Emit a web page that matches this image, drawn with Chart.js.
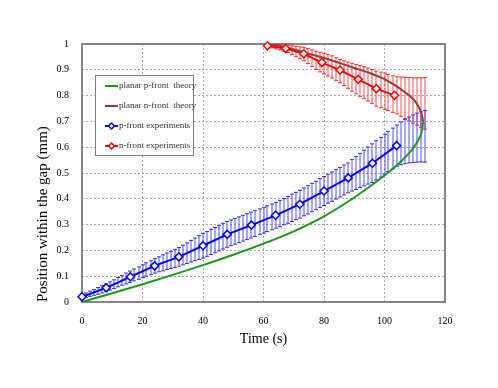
<!DOCTYPE html>
<html>
<head>
<meta charset="utf-8">
<script src="https://cdn.jsdelivr.net/npm/chart.js@4.4.0/dist/chart.umd.min.js"></script>
<style>
html, body { margin: 0; padding: 0; background: #fff; }
</style>
</head>
<body>
<canvas id="chart" width="498" height="388"></canvas>
<script>
// p-front experiments (markers)
var pTime = [0, 8, 16, 24, 32, 40, 48, 56, 64, 72, 80, 88, 96, 104];
var pPos = [0.02, 0.055, 0.098, 0.14, 0.175, 0.218, 0.262, 0.298, 0.336, 0.379, 0.43, 0.481, 0.538, 0.606];

// n-front experiments (markers)
var nTime = [61.3, 67.3, 73.3, 79.3, 85.3, 91.3, 97.3, 103.3];
var nPos = [0.993, 0.983, 0.962, 0.928, 0.899, 0.863, 0.827, 0.801];

// planar p-front theory
var pTheoryTime = [0, 10, 20, 30, 40, 50, 60, 70, 80, 90, 100, 105, 108, 110, 111.5, 112.4, 112.8];
var pTheoryPos = [0, 0.034, 0.069, 0.105, 0.143, 0.183, 0.226, 0.274, 0.332, 0.405, 0.49, 0.54, 0.575, 0.605, 0.635, 0.665, 0.70];

// planar n-front theory
var nTheoryTime = [61.3, 65, 68, 74, 80, 85, 90, 95, 100, 104, 106, 108, 110, 111.5, 112.3, 112.8];
var nTheoryPos = [1.0, 0.993, 0.986, 0.965, 0.946, 0.927, 0.907, 0.888, 0.864, 0.836, 0.82, 0.802, 0.78, 0.752, 0.728, 0.70];

// p-front error bars (time, centre, half width)
var pErrTime = [0, 1.3, 2.7, 4, 5.3, 6.7, 8, 9.3, 10.7, 12, 13.3, 14.7, 16, 17.3, 18.7, 20, 21.3, 22.7, 24,
  25.3, 26.7, 28, 29.3, 30.7, 32, 33.3, 34.7, 36, 37.3, 38.7, 40, 41.3, 42.7, 44, 45.3, 46.7, 48,
  49.3, 50.7, 52, 53.3, 54.7, 56, 57.3, 58.7, 60, 61.3, 62.7, 64, 65.3, 66.7, 68, 69.3, 70.7, 72,
  73.3, 74.7, 76, 77.3, 78.7, 80, 81.3, 82.7, 84, 85.3, 86.7, 88, 89.3, 90.7, 92, 93.3, 94.7, 96,
  97.3, 98.7, 100, 101.3, 102.7, 104, 105.3, 106.7, 108, 109.3, 110.7, 112, 113.3];
var pErrMid = [0.020, 0.026, 0.032, 0.037, 0.043, 0.049, 0.055, 0.062, 0.069, 0.077, 0.084, 0.091, 0.098,
  0.105, 0.112, 0.119, 0.126, 0.133, 0.140, 0.146, 0.152, 0.158, 0.163, 0.169, 0.175,
  0.182, 0.189, 0.197, 0.204, 0.211, 0.218, 0.225, 0.233, 0.240, 0.247, 0.255, 0.262,
  0.268, 0.274, 0.280, 0.286, 0.292, 0.298, 0.304, 0.311, 0.317, 0.323, 0.330, 0.336,
  0.343, 0.350, 0.357, 0.365, 0.372, 0.379, 0.388, 0.396, 0.405, 0.413, 0.422, 0.430,
  0.439, 0.447, 0.456, 0.464, 0.473, 0.481, 0.491, 0.500, 0.510, 0.519, 0.529, 0.538,
  0.549, 0.561, 0.572, 0.583, 0.595, 0.606, 0.615, 0.622, 0.628, 0.633, 0.637, 0.640, 0.642];
var pErrHalf = [0.008, 0.009, 0.010, 0.011, 0.013, 0.014, 0.015, 0.016, 0.017, 0.018, 0.019, 0.021, 0.022,
  0.023, 0.024, 0.025, 0.026, 0.027, 0.028, 0.029, 0.031, 0.032, 0.033, 0.035, 0.036,
  0.038, 0.040, 0.042, 0.044, 0.046, 0.048, 0.048, 0.049, 0.049, 0.049, 0.050, 0.050,
  0.050, 0.050, 0.050, 0.050, 0.050, 0.050, 0.050, 0.050, 0.050, 0.050, 0.050, 0.050,
  0.051, 0.051, 0.052, 0.053, 0.053, 0.054, 0.054, 0.055, 0.055, 0.055, 0.056, 0.056,
  0.056, 0.057, 0.057, 0.057, 0.058, 0.058, 0.061, 0.064, 0.066, 0.069, 0.072, 0.075,
  0.076, 0.077, 0.078, 0.078, 0.079, 0.080, 0.083, 0.086, 0.089, 0.092, 0.095, 0.097, 0.100];

// n-front error bars (time, centre, half width)
var nErrTime = [61.3, 62.7, 64, 65.3, 66.7, 68, 69.3, 70.7, 72, 73.3, 74.7, 76, 77.3, 78.7, 80,
  81.3, 82.7, 84, 85.3, 86.7, 88, 89.3, 90.7, 92, 93.3, 94.7, 96, 97.3, 98.7, 100,
  101.3, 102.7, 104, 105.3, 106.7, 108, 109.3, 110.7, 112, 113.3];
var nErrMid = [0.993, 0.991, 0.989, 0.987, 0.984, 0.981, 0.976, 0.971, 0.966, 0.961, 0.953, 0.945, 0.937, 0.930, 0.924,
  0.918, 0.911, 0.903, 0.895, 0.887, 0.879, 0.871, 0.864, 0.857, 0.850, 0.843, 0.835, 0.827, 0.822, 0.817,
  0.812, 0.806, 0.801, 0.796, 0.791, 0.786, 0.781, 0.777, 0.773, 0.770];
var nErrHalf = [0.004, 0.006, 0.008, 0.010, 0.012, 0.014, 0.017, 0.020, 0.023, 0.026, 0.029, 0.032, 0.035, 0.038, 0.040,
  0.042, 0.043, 0.044, 0.045, 0.048, 0.051, 0.054, 0.057, 0.060, 0.062, 0.064, 0.066, 0.068, 0.069, 0.070,
  0.070, 0.071, 0.072, 0.076, 0.080, 0.084, 0.088, 0.092, 0.096, 0.100];

var seriesNames = ['p-front experiments', 'n-front experiments', 'planar p-front  theory', 'planar n-front  theory'];

function toPoints(xs, ys) {
  var out = [];
  for (var i = 0; i < xs.length; i++) out.push({x: xs[i], y: ys[i]});
  return out;
}

// frame + error bars, under the lines
var errorBars = {
  id: 'errorBars',
  beforeDatasetsDraw: function(chart) {
    var ctx = chart.ctx, xs = chart.scales.x, ys = chart.scales.y, a = chart.chartArea;
    ctx.save();
    ctx.strokeStyle = '#858585';
    ctx.lineWidth = 2;
    ctx.strokeRect(a.left, a.top, a.right - a.left, a.bottom - a.top);

    function bars(t, mid, half, lineCol, capCol) {
      for (var i = 0; i < t.length; i++) {
        var x = Math.round(xs.getPixelForValue(t[i]));
        var y1 = ys.getPixelForValue(mid[i] + half[i]);
        var y2 = ys.getPixelForValue(mid[i] - half[i]);
        ctx.strokeStyle = lineCol;
        ctx.lineWidth = 2;
        ctx.beginPath();
        ctx.moveTo(x, y1); ctx.lineTo(x, y2);
        ctx.stroke();
        ctx.strokeStyle = capCol;
        ctx.lineWidth = 1;
        ctx.beginPath();
        ctx.moveTo(x - 2, y1); ctx.lineTo(x + 2, y1);
        ctx.moveTo(x - 2, y2); ctx.lineTo(x + 2, y2);
        ctx.stroke();
      }
    }
    bars(nErrTime, nErrMid, nErrHalf, 'rgba(255,60,60,0.45)', 'rgba(255,0,0,0.8)');
    bars(pErrTime, pErrMid, pErrHalf, 'rgba(60,60,255,0.45)', 'rgba(0,0,255,0.8)');
    ctx.restore();
  }
};

// legend box inside the plot
var boxLegend = {
  id: 'boxLegend',
  afterDraw: function(chart) {
    var ctx = chart.ctx;
    var x0 = 95.5, y0 = 75.5, w = 98, h = 80;
    ctx.save();
    ctx.fillStyle = '#fff';
    ctx.fillRect(x0, y0, w, h);
    ctx.strokeStyle = '#808080';
    ctx.lineWidth = 1;
    ctx.strokeRect(x0, y0, w, h);
    var rows = [2, 3, 0, 1];
    ctx.font = '9px "Liberation Serif", "Times New Roman", serif';
    ctx.textBaseline = 'middle';
    ctx.textAlign = 'left';
    for (var r = 0; r < rows.length; r++) {
      var ds = chart.data.datasets[rows[r]];
      var y = 86 + r * 20;
      ctx.strokeStyle = ds.borderColor;
      ctx.lineWidth = 2;
      ctx.beginPath();
      ctx.moveTo(105, y); ctx.lineTo(118, y);
      ctx.stroke();
      if (ds.pointRadius > 0) {
        ctx.lineWidth = 1.5;
        ctx.fillStyle = '#fff';
        ctx.beginPath();
        ctx.moveTo(111.5, y - 3); ctx.lineTo(114.5, y); ctx.lineTo(111.5, y + 3); ctx.lineTo(108.5, y);
        ctx.closePath();
        ctx.fill(); ctx.stroke();
      }
      ctx.fillStyle = '#333';
      ctx.fillText(ds.label, 119, y);
    }
    ctx.restore();
  }
};

var serif = '"Liberation Serif", "Times New Roman", serif';

new Chart(document.getElementById('chart'), {
  type: 'scatter',
  data: {
    datasets: [{
      label: seriesNames[0],
      data: toPoints(pTime, pPos),
      showLine: true,
      borderColor: '#0000ff',
      borderWidth: 2,
      pointStyle: 'rectRot',
      pointRadius: 4,
      pointBorderWidth: 1.5,
      pointBackgroundColor: '#fff',
      pointBorderColor: '#0000ff',
      clip: false
    }, {
      label: seriesNames[1],
      data: toPoints(nTime, nPos),
      showLine: true,
      borderColor: '#ff0000',
      borderWidth: 2,
      pointStyle: 'rectRot',
      pointRadius: 4,
      pointBorderWidth: 1.5,
      pointBackgroundColor: '#fff',
      pointBorderColor: '#ff0000',
      clip: false
    }, {
      label: seriesNames[2],
      data: toPoints(pTheoryTime, pTheoryPos),
      showLine: true,
      borderColor: '#1a9a1a',
      borderWidth: 2,
      pointRadius: 0,
      cubicInterpolationMode: 'monotone'
    }, {
      label: seriesNames[3],
      data: toPoints(nTheoryTime, nTheoryPos),
      showLine: true,
      borderColor: '#993838',
      borderWidth: 2,
      pointRadius: 0,
      cubicInterpolationMode: 'monotone'
    }]
  },
  options: {
    responsive: false,
    animation: false,
    events: [],
    layout: { padding: { top: 44, right: 53, bottom: 0, left: 0 } },
    plugins: { legend: { display: false }, tooltip: { enabled: false } },
    scales: {
      x: {
        type: 'linear',
        min: 0, max: 120,
        afterFit: function(s) { s.height = 86; },
        ticks: {
          stepSize: 20,
          padding: 13,
          color: '#000',
          font: { family: serif, size: 10 }
        },
        grid: { color: '#a8a8a8', lineWidth: 1, drawTicks: false },
        border: { display: false, dash: [2, 2] },
        title: {
          display: true,
          text: 'Time (s)',
          color: '#000',
          font: { family: serif, size: 14 },
          padding: { top: 0, bottom: 40 }
        }
      },
      y: {
        type: 'linear',
        min: 0, max: 1,
        afterFit: function(s) { s.width = 82; },
        ticks: {
          stepSize: 0.1,
          padding: 13,
          color: '#000',
          font: { family: serif, size: 10 },
          callback: function(v) { return String(Math.round(v * 10) / 10); }
        },
        grid: { color: '#a8a8a8', lineWidth: 1, drawTicks: false },
        border: { display: false, dash: [2, 2] },
        title: {
          display: true,
          text: 'Position within the gap (mm)',
          align: 'start',
          color: '#000',
          font: { family: serif, size: 15 },
          padding: { top: 34, bottom: 0 }
        }
      }
    }
  },
  plugins: [errorBars, boxLegend]
});
</script>
</body>
</html>
